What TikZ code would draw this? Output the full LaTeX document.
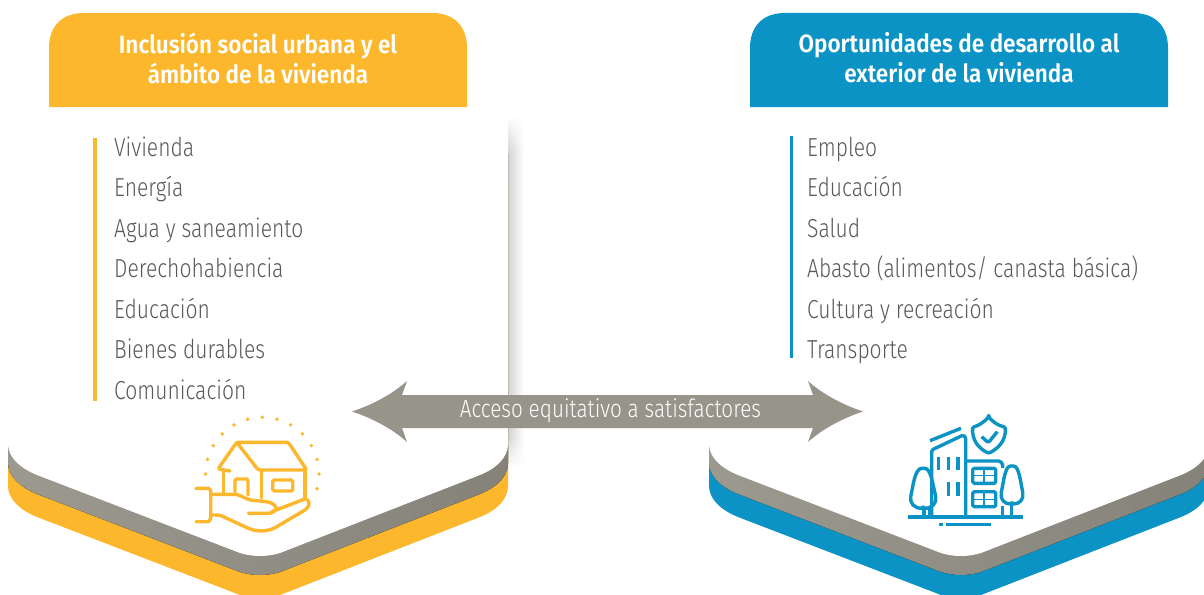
\documentclass[tikz,border=0pt]{standalone}
\usepackage{fontspec}
\usepackage{tikz}
\usetikzlibrary{arrows.meta,calc,fadings,positioning}
\newfontfamily\itemfont[UprightFont=* Light,FakeStretch=.81]{Fira Sans}
\newfontfamily\linkfont[UprightFont=* Light,FakeStretch=.83]{Fira Sans}
\newfontfamily\headfont[UprightFont=* SemiBold,FakeStretch=.90]{Fira Sans}
\definecolor{ambar}{HTML}{FCB72D}
\definecolor{azul}{HTML}{0A93C4}
\definecolor{piedrab}{HTML}{9C998F}
\definecolor{piedrao}{HTML}{85827A}
\definecolor{flecha}{HTML}{97948A}
\definecolor{texto}{HTML}{58595B}
\newcommand{\cardoutline}{(8,135) -- (8,445) .. controls (9,458) and (20,468) .. (37,475) -- (240,553) .. controls (253,557) and (267,557) .. (280,553) -- (480,475) .. controls (497,468) and (507,458) .. (508,445) -- (508,135) .. controls (508,120) and (498,110) .. (483,110) -- (33,110) .. controls (18,110) and (8,120) .. (8,135) -- cycle}
\newcommand{\bandoutline}{(49,107) -- (49,48) .. controls (49,26) and (62,13) .. (84,13) -- (432,13) .. controls (454,13) and (467,26) .. (467,48) -- (467,107) -- cycle}

\begin{document}
\begin{tikzpicture}[x=1pt, y=-1pt,
    head/.style={font=\headfont\fontsize{25}{30}\selectfont, text=white, align=center},
    item/.style={font=\itemfont\fontsize{26}{30}\selectfont, text=texto, anchor=base west, inner sep=0pt},
    sombra/.style={left color=piedrab, right color=piedrao},
    icon/.style={line width=3.4pt, line cap=round, line join=round, rounded corners=1.5pt}]
    \useasboundingbox (0,0) rectangle (1204,594);

    % left card
    \fill[left color=black!17, right color=white] (508,118) rectangle (524,466);
    \fill[white, path fading=south] (500,116) rectangle (526,152);
    \fill[white, path fading=north] (500,436) rectangle (526,468);
    \fill[ambar, shift={(0,42)}] \cardoutline;
    \fill[sombra, shift={(0,19)}] \cardoutline;
    \fill[white] \cardoutline;
    \fill[ambar] \bandoutline;

    % right card
    \begin{scope}[shift={(701,0)}]
        \fill[azul, shift={(0,42)}] \cardoutline;
        \fill[sombra, shift={(0,19)}] \cardoutline;
        \fill[white] \cardoutline;
        \fill[azul] \bandoutline;
    \end{scope}

    \node[head] (titlea) at (258,58) {Inclusión social urbana y el\\ámbito de la vivienda};
    \node[head] (titleb) at (959,58) {Oportunidades de desarrollo al\\exterior de la vivienda};

    \fill[ambar] (93,138) rectangle (97,401);
    \node[item] (a1) at (114,156) {Vivienda};
    \node[item] (a2) at (114,196.5) {Energía};
    \node[item] (a3) at (114,237) {Agua y saneamiento};
    \node[item] (a4) at (114,277.5) {Derechohabiencia};
    \node[item] (a5) at (114,318) {Educación};
    \node[item] (a6) at (114,358.5) {Bienes durables};
    \node[item] (a7) at (114,399) {Comunicación};

    \fill[azul] (790,136) rectangle (793,358);
    \node[item] (b1) at (807,156) {Empleo};
    \node[item] (b2) at (807,196.5) {Educación};
    \node[item] (b3) at (807,237) {Salud};
    \node[item] (b4) at (807,277.5) {Abasto (alimentos/ canasta básica)};
    \node[item] (b5) at (807,318) {Cultura y recreación};
    \node[item] (b6) at (807,358.5) {Transporte};

    % double arrow
    \fill[flecha] (352,411.5) .. controls (375,404) and (395,392) .. (407,381) -- (402,395) -- (813,395) -- (808,381)
        .. controls (820,392) and (840,404) .. (863,411.5) .. controls (840,419) and (820,431) .. (808,442)
        -- (813,428) -- (402,428) -- (407,442) .. controls (395,431) and (375,419) .. (352,411.5) -- cycle;
    \node[font=\linkfont\fontsize{25}{28}\selectfont, text=white] (acceso) at (610.5,411) {Acceso equitativo a satisfactores};

    % house icon
    \foreach \a in {-15,0,...,180}
        \fill[ambar] ($(262.3,474)+(\a:56.7 and -56.7)$) circle (1.9);
    \begin{scope}[icon, draw=ambar]
        \draw (230,471) -- (218,469) -- (236.7,442.3) -- (288.3,442.3) -- (306.7,470) -- (258.3,470) -- (236.7,442.3);
        \draw (223.3,471) -- (223.3,493);
        \draw (261.7,470) -- (261.7,498);
        \draw (305,470) -- (305,497);
        \draw (235,492) -- (235,479) -- (248,479) -- (248,495);
        \draw (272.7,480) rectangle (292.7,491);
        \draw (196,488.3) -- (206.7,488.3) .. controls (209,488.3) and (210.7,490) .. (210.7,493) -- (210.7,516) .. controls (210.7,519) and (209,521.7) .. (206.7,521.7) -- (196,521.7);
        \draw (210.7,494.3) -- (236.7,494.3) -- (250,500) -- (266.7,501.7) .. controls (274,503) and (277,508) .. (275,510) .. controls (273,513) and (270,513.3) .. (266,513.3) -- (248.3,513.3);
        \draw (271.7,511.7) -- (304,499.3) .. controls (309,499) and (311,505) .. (305,510) -- (276.7,526.7) .. controls (268,531.5) and (258,532) .. (248.3,528.3) -- (223.3,516.7) .. controls (220,515) and (216,515) .. (211.7,515);
    \end{scope}

    % building icon
    \begin{scope}[icon, draw=azul, line cap=butt]
        \draw (908,517) -- (1022.7,517);
        \draw (939,524.7) -- (943,524.7);
        \draw (946,524.7) -- (991,524.7);
        \draw (931.7,515) -- (931.7,450) -- (963.3,435) -- (965.7,437.3) -- (965.7,515);
        \draw (930,440.7) -- (961,428.3);
        \foreach \x in {938.7,948.3,958}
            \draw (\x,457.3) -- (\x,470);
        \foreach \x in {948.3,958}
            \draw (\x,482.3) -- (\x,495.7);
        \draw (965.7,461) -- (1000,461) -- (1002.7,464) -- (1002.7,468);
        \draw (1002.7,506) -- (1002.7,515);
        \foreach \y in {468.3,491.7}{
            \draw (972.7,\y) rectangle (995.7,\y+15);
            \draw[line width=2.8pt] (984,\y) -- (984,\y+15);
            \draw[line width=1.2pt] (972.7,\y+7.5) -- (995.7,\y+7.5);
        }
        % shield
        \draw (988.7,417) .. controls (984,422) and (978,426) .. (972.7,427) .. controls (972,440) and (978,448) .. (988.7,453.3) .. controls (999,448) and (1006,440) .. (1005.3,427) .. controls (999,426) and (993,422) .. (988.7,417) -- cycle;
        \draw (981.7,436.7) -- (988.3,442.7) -- (997.3,431.7);
        % trees
        \draw (923.3,508.3) .. controls (914,508.3) and (909.5,503) .. (911,495) .. controls (913,486) and (915,468.3) .. (923.3,468.3) .. controls (931,468.3) and (933,486) .. (935.5,495) .. controls (937,503) and (932,508.3) .. (923.3,508.3) -- cycle;
        \draw (924,508) -- (924,515);
        \draw (930,508) -- (930,515);
        \draw (1012,504) .. controls (1004,504) and (1000,499) .. (1001.5,491) .. controls (1003.5,482) and (1005,466) .. (1012,466) .. controls (1019,466) and (1020.5,482) .. (1022.5,491) .. controls (1024,499) and (1020,504) .. (1012,504) -- cycle;
        \draw (1011.7,504) -- (1011.7,515);
    \end{scope}
\end{tikzpicture}
\end{document}
